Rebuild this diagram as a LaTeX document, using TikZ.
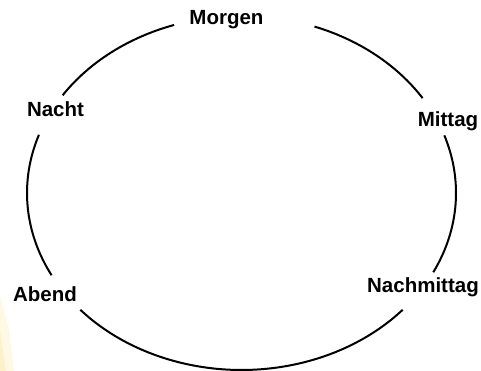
\documentclass[tikz,border=0pt]{standalone}
\usepackage{fontspec}
\setmainfont{Liberation Sans}
\usetikzlibrary{positioning,calc}
\definecolor{dayline}{HTML}{000000}
\definecolor{glowlight}{HTML}{FFF8E4}
\definecolor{glowdark}{HTML}{FEF0CA}
\tikzstyle{daytime} = [inner sep=0pt, anchor=base, font=\fontsize{20.5}{24}\selectfont\bfseries]
\tikzstyle{dayarc} = [draw=dayline, line width=2pt]

\begin{document}
\begin{tikzpicture}[x=1pt, y=1pt]
\useasboundingbox (0,0) rectangle (481,371);
% faint glow in the lower left corner
\fill[glowlight] (0,0) -- (0,75) -- (9,42) -- (14,0) -- cycle;
\fill[glowdark] (0,0) -- (0,40) -- (6,0) -- cycle;

\node[daytime] (morgen) at (226.5,346) {Morgen};
\node[daytime] (mittag) at (448,244.5) {Mittag};
\node[daytime] (nachmittag) at (423,78) {Nachmittag};
\node[daytime] (abend) at (45,69) {Abend};
\node[daytime] (nacht) at (55.5,254) {Nacht};

% ends of the arcs on the ellipse
\coordinate (mid) at (241.5,178);
\coordinate (morgen-l) at ($(mid)+(108.3:214.5 and 177)$);
\coordinate (nacht-l) at ($(mid)+(160.8:214.5 and 177)$);
\coordinate (abend-r) at ($(mid)+(221.3:214.5 and 177)$);
\coordinate (nachmittag-r) at ($(mid)+(-26.6:214.5 and 177)$);
\coordinate (mittag-r) at ($(mid)+(32.4:214.5 and 177)$);

\draw[dayarc] (morgen-l) arc[start angle=108.3, end angle=146.5, x radius=214.5, y radius=177];
\draw[dayarc] (nacht-l) arc[start angle=160.8, end angle=207.7, x radius=214.5, y radius=177];
\draw[dayarc] (abend-r) arc[start angle=221.3, end angle=318.7, x radius=214.5, y radius=177];
\draw[dayarc] (nachmittag-r) arc[start angle=-26.6, end angle=19.0, x radius=214.5, y radius=177];
\draw[dayarc] (mittag-r) arc[start angle=32.4, end angle=70.1, x radius=214.5, y radius=177];
\end{tikzpicture}
\end{document}
